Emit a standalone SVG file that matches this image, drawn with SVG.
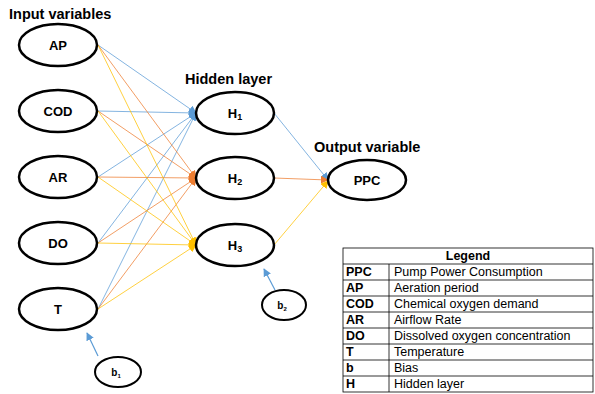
<svg xmlns="http://www.w3.org/2000/svg" width="595" height="394" viewBox="0 0 595 394">
<defs>
<marker id="mb" viewBox="0 0 10 10" refX="9" refY="5" markerWidth="8" markerHeight="8" orient="auto" markerUnits="userSpaceOnUse"><path d="M0,0 L10,5 L0,10 z" fill="#5B9BD5"/></marker>
<marker id="mo" viewBox="0 0 10 10" refX="9" refY="5" markerWidth="8" markerHeight="8" orient="auto" markerUnits="userSpaceOnUse"><path d="M0,0 L10,5 L0,10 z" fill="#ED7D31"/></marker>
<marker id="my" viewBox="0 0 10 10" refX="9" refY="5" markerWidth="8" markerHeight="8" orient="auto" markerUnits="userSpaceOnUse"><path d="M0,0 L10,5 L0,10 z" fill="#FFC000"/></marker>
</defs>
<style>
.node{fill:#fff;stroke:#000;stroke-width:2.5}
.lbl{font-family:"Liberation Sans",Arial,sans-serif;font-weight:bold;font-size:13px;text-anchor:middle;fill:#000}
.sm{font-size:9px}
.title{font-family:"Liberation Sans",Arial,sans-serif;font-weight:bold;font-size:14.5px;fill:#000}
.b{stroke:#5B9BD5;stroke-width:1;fill:none;stroke-opacity:0.75}
.o{stroke:#ED7D31;stroke-width:1;fill:none;stroke-opacity:0.75}
.y{stroke:#FFC000;stroke-width:1;fill:none;stroke-opacity:0.75}
.bias{stroke:#5B9BD5;stroke-width:1.2;fill:none}
.lg{font-family:"Liberation Sans",Arial,sans-serif;font-size:12.5px;fill:#000}
.lgb{font-family:"Liberation Sans",Arial,sans-serif;font-size:12.5px;font-weight:bold;fill:#000}
.grid{stroke:#000;stroke-width:0.8;fill:none}
</style>
<text class="title" x="9" y="19">Input variables</text>
<text class="title" x="185" y="84">Hidden layer</text>
<text class="title" x="314" y="152">Output variable</text>
<g id="connectors">
<line class="b" x1="98" y1="45" x2="196" y2="113" marker-end="url(#mb)"/>
<line class="b" x1="98" y1="111" x2="196" y2="113" marker-end="url(#mb)"/>
<line class="b" x1="98" y1="177" x2="196" y2="113" marker-end="url(#mb)"/>
<line class="b" x1="98" y1="243" x2="196" y2="113" marker-end="url(#mb)"/>
<line class="b" x1="98" y1="309" x2="196" y2="113" marker-end="url(#mb)"/>
<line class="o" x1="98" y1="45" x2="196" y2="178" marker-end="url(#mo)"/>
<line class="o" x1="98" y1="111" x2="196" y2="178" marker-end="url(#mo)"/>
<line class="o" x1="98" y1="177" x2="196" y2="178" marker-end="url(#mo)"/>
<line class="o" x1="98" y1="243" x2="196" y2="178" marker-end="url(#mo)"/>
<line class="o" x1="98" y1="309" x2="196" y2="178" marker-end="url(#mo)"/>
<line class="y" x1="98" y1="45" x2="196" y2="245" marker-end="url(#my)"/>
<line class="y" x1="98" y1="111" x2="196" y2="245" marker-end="url(#my)"/>
<line class="y" x1="98" y1="177" x2="196" y2="245" marker-end="url(#my)"/>
<line class="y" x1="98" y1="243" x2="196" y2="245" marker-end="url(#my)"/>
<line class="y" x1="98" y1="309" x2="196" y2="245" marker-end="url(#my)"/>
<line class="b" x1="274" y1="113" x2="328" y2="180" marker-end="url(#mb)"/>
<line class="o" x1="274" y1="178" x2="328" y2="180" marker-end="url(#mo)"/>
<line class="y" x1="274" y1="245" x2="328" y2="181" marker-end="url(#my)"/>
<line class="bias" x1="98" y1="356" x2="87" y2="333" marker-end="url(#mb)"/>
<line class="bias" x1="275" y1="290" x2="264" y2="269" marker-end="url(#mb)"/>
</g>
<g id="AP"><ellipse class="node" cx="58" cy="45" rx="39" ry="21"/><text class="lbl" x="58" y="50">AP</text></g>
<g id="COD"><ellipse class="node" cx="58" cy="111" rx="39" ry="21"/><text class="lbl" x="58" y="116">COD</text></g>
<g id="AR"><ellipse class="node" cx="58" cy="177" rx="39" ry="21"/><text class="lbl" x="58" y="182">AR</text></g>
<g id="DO"><ellipse class="node" cx="58" cy="243" rx="39" ry="21"/><text class="lbl" x="58" y="248">DO</text></g>
<g id="T"><ellipse class="node" cx="58" cy="309" rx="39" ry="21"/><text class="lbl" x="58" y="314">T</text></g>
<g id="H1"><ellipse class="node" cx="235" cy="113" rx="39" ry="21"/><text class="lbl" x="235" y="118">H<tspan class="sm" dy="2">1</tspan></text></g>
<g id="H2"><ellipse class="node" cx="235" cy="178" rx="39" ry="21"/><text class="lbl" x="235" y="183">H<tspan class="sm" dy="2">2</tspan></text></g>
<g id="H3"><ellipse class="node" cx="235" cy="245" rx="39" ry="21"/><text class="lbl" x="235" y="250">H<tspan class="sm" dy="2">3</tspan></text></g>
<g id="PPC"><ellipse class="node" cx="367" cy="180" rx="39" ry="20"/><text class="lbl" x="367" y="185">PPC</text></g>
<g id="b1"><ellipse class="node" cx="118" cy="372" rx="23" ry="15" style="stroke-width:2"/><text class="lbl" x="116" y="376" style="font-size:10px">b<tspan style="font-size:6px" dy="2">1</tspan></text></g>
<g id="b2"><ellipse class="node" cx="284" cy="305" rx="22" ry="15" style="stroke-width:2"/><text class="lbl" x="282" y="309" style="font-size:10px">b<tspan style="font-size:6px" dy="2">2</tspan></text></g>
<g id="legend">
<rect class="grid" x="343" y="248" width="250" height="144"/>
<line class="grid" x1="343" y1="264" x2="593" y2="264"/>
<line class="grid" x1="343" y1="280" x2="593" y2="280"/>
<line class="grid" x1="343" y1="296" x2="593" y2="296"/>
<line class="grid" x1="343" y1="312" x2="593" y2="312"/>
<line class="grid" x1="343" y1="328" x2="593" y2="328"/>
<line class="grid" x1="343" y1="344" x2="593" y2="344"/>
<line class="grid" x1="343" y1="360" x2="593" y2="360"/>
<line class="grid" x1="343" y1="376" x2="593" y2="376"/>
<line class="grid" x1="389" y1="264" x2="389" y2="392"/>
<text class="lgb" x="468" y="260" text-anchor="middle">Legend</text>
<text class="lgb" x="346" y="276">PPC</text><text class="lg" x="394" y="276">Pump Power Consumption</text>
<text class="lgb" x="346" y="292">AP</text><text class="lg" x="394" y="292">Aeration period</text>
<text class="lgb" x="346" y="308">COD</text><text class="lg" x="394" y="308">Chemical oxygen demand</text>
<text class="lgb" x="346" y="324">AR</text><text class="lg" x="394" y="324">Airflow Rate</text>
<text class="lgb" x="346" y="340">DO</text><text class="lg" x="394" y="340">Dissolved oxygen concentration</text>
<text class="lgb" x="346" y="356">T</text><text class="lg" x="394" y="356">Temperature</text>
<text class="lgb" x="346" y="372">b</text><text class="lg" x="394" y="372">Bias</text>
<text class="lgb" x="346" y="388">H</text><text class="lg" x="394" y="388">Hidden layer</text>
</g>
</svg>
